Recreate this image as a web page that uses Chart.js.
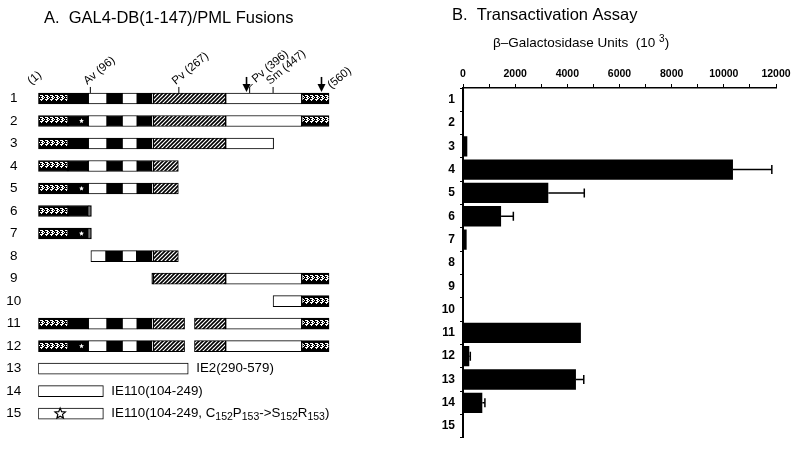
<!DOCTYPE html>
<html>
<head>
<meta charset="utf-8">
<script src="https://cdn.jsdelivr.net/npm/chart.js@4.4.1/dist/chart.umd.min.js"></script>
<style>
  html, body { margin: 0; padding: 0; background: #fff; }
  #wrap { position: relative; width: 800px; height: 450px; }
  .box { position: absolute; top: 0; height: 450px; }
</style>
</head>
<body>
<div id="wrap">
  <div class="box" style="left:0;width:440px"><canvas id="mapChart"></canvas></div>
  <div class="box" style="left:440px;width:360px"><canvas id="assayChart"></canvas></div>
</div>
<script>
// Конструкции 1..15
const constructs = ['1','2','3','4','5','6','7','8','9','10','11','12','13','14','15'];

// A. Карта слияний: [конструкция, начало, конец] в аминокислотах (1-560)
const gal4Segments = [
  ['1',1,58],['1',507,560],['2',1,58],['2',507,560],['3',1,58],['4',1,58],['5',1,58],
  ['6',1,58],['7',1,58],['9',507,560],['10',507,560],['11',1,58],['11',507,560],
  ['12',1,58],['12',507,560]
];
const blackSegments = [
  ['1',58,97],['1',133,162],['1',191,219],
  ['2',58,97],['2',133,162],['2',191,219],
  ['3',58,97],['3',133,162],['3',191,219],
  ['4',58,97],['4',133,162],['4',191,219],
  ['5',58,97],['5',133,162],['5',191,219],
  ['6',58,97],['6',100,103],['7',58,97],['7',100,103],
  ['8',131,162],['8',190,219],['9',219,222],
  ['11',58,97],['11',133,162],['11',191,219],
  ['12',58,97],['12',133,162],['12',191,219]
];
const whiteSegments = [
  ['1',97,133],['1',162,191],['1',219,222],['1',361,507],
  ['2',97,133],['2',162,191],['2',219,222],['2',361,507],
  ['3',97,133],['3',162,191],['3',219,222],['3',361,453],
  ['4',97,133],['4',162,191],['4',219,222],
  ['5',97,133],['5',162,191],['5',219,222],
  ['6',97,100],['7',97,100],
  ['8',102,131],['8',162,190],['8',219,222],
  ['9',361,507],['10',452,507],
  ['11',97,133],['11',162,191],['11',219,222],['11',361,507],
  ['12',97,133],['12',162,191],['12',219,222],['12',361,507]
];
const coiledSegments = [
  ['1',222,361],['2',222,361],['3',222,361],['4',222,270],['5',222,270],
  ['8',222,270],['9',222,361],['11',222,282],['11',301,361],['12',222,282],['12',301,361]
];
const viralSegments = [['13',1,289],['14',1,126],['15',1,126]];
const pointMutants = [['2',84],['5',84],['7',84],['12',84]];
const ringMutants = [['15',43]];
const viralLabels = [
  ['13', [['IE2(290-579)', 0]]],
  ['14', [['IE110(104-249)', 0]]],
  ['15', [['IE110(104-249, C', 0], ['152', 1], ['P', 0], ['153', 1], ['->S', 0], ['152', 1], ['R', 0], ['153', 1], [')', 0]]]
];
const siteNames = ['(1)', 'Av (96)', 'Pv (267)', 'Pv (396)', 'Sm (447)', '(560)'];
const sitePositions = [1, 101, 271, 407, 452, 560];
const arrowPositions = [401, 545];

// B. Трансактивация, бета-галактозидаза (10^3)
const betaGal    = [40, 30, 165, 10350, 3270, 1460, 140, 0, 0, 0, 4520, 240, 4330, 740, 30];
const betaGalErr = [0, 0, 0, 1490, 1380, 470, 0, 0, 0, 0, 0, 40, 300, 100, 0];

const FONT = "'Liberation Sans', Arial, Helvetica, sans-serif";
const BAR = 11;
Chart.defaults.font.family = FONT;
Chart.defaults.color = '#000';

// Узоры
const dotsTile = (() => {
  const c = document.createElement('canvas');
  c.width = 5; c.height = BAR;
  const g = c.getContext('2d');
  g.fillStyle = '#000'; g.fillRect(0, 0, 5, BAR);
  g.fillStyle = '#fff';
  [[0,2],[1,2],[2,2],[2,3],[3,3],[1,4],[2,4],[2,5],[3,5],[0,6],[1,6],[2,6],[1,7],[4,4]]
    .forEach(([px, py]) => g.fillRect(px, py, 1, 1));
  return c;
})();

const hatchPattern = (() => {
  const c = document.createElement('canvas');
  c.width = 4; c.height = 4;
  const g = c.getContext('2d');
  g.fillStyle = '#fff'; g.fillRect(0, 0, 4, 4);
  g.strokeStyle = '#000'; g.lineWidth = 1.6;
  g.beginPath();
  g.moveTo(-1, 1); g.lineTo(1, -1);
  g.moveTo(0, 4); g.lineTo(4, 0);
  g.moveTo(3, 5); g.lineTo(5, 3);
  g.stroke();
  return g.createPattern(c, 'repeat');
})();

// узор GAL4 привязан к верхнему краю полосы
const dotsFill = (context) => {
  const chart = context.chart;
  const raw = context.raw;
  if (!raw || !chart.scales.y) return '#000';
  const p = chart.ctx.createPattern(dotsTile, 'repeat');
  const top = Math.round(chart.scales.y.getPixelForValue(constructs.indexOf(raw.y)) - BAR / 2);
  p.setTransform(new DOMMatrix().translate(0, top));
  return p;
};

const segDataset = (list, fill) => ({
  data: list.map(([row, a, b]) => ({ y: row, x: [a, b] })),
  backgroundColor: fill,
  borderColor: '#000',
  borderWidth: 1,
  borderSkipped: false,
  barThickness: BAR,
  grouped: false
});

const drawStar = (ctx, cx, cy, r, filled) => {
  ctx.beginPath();
  for (let i = 0; i < 10; i++) {
    const rr = i % 2 ? r * 0.45 : r;
    const a = -Math.PI / 2 + i * Math.PI / 5;
    ctx.lineTo(cx + rr * Math.cos(a), cy + rr * Math.sin(a));
  }
  ctx.closePath();
  ctx.fillStyle = '#fff';
  ctx.fill();
  if (!filled) { ctx.strokeStyle = '#000'; ctx.lineWidth = 1.2; ctx.stroke(); }
};

const mapAnnotations = {
  id: 'mapAnnotations',
  afterDatasetsDraw(chart) {
    const { ctx, scales: { x, y } } = chart;
    ctx.save();
    // заголовок
    ctx.fillStyle = '#000';
    ctx.font = '16.5px ' + FONT;
    ctx.textBaseline = 'middle';
    ctx.fillText('A.  GAL4-DB(1-147)/PML Fusions', 44, 18);

    const top = y.getPixelForValue(0) - BAR / 2;
    // сайты рестрикции
    ctx.strokeStyle = '#000';
    ctx.lineWidth = 1;
    sitePositions.forEach((p, i) => {
      const px = x.getPixelForValue(p);
      const inner = i > 0 && i < sitePositions.length - 1;
      if (inner) {
        ctx.beginPath();
        ctx.moveTo(px, top); ctx.lineTo(px, top - 6);
        if (i === 3) ctx.lineTo(px + 3, top - 9);
        ctx.stroke();
      }
      ctx.save();
      let ax = px - 3, ay = top - 8;
      if (i === 0) { ax = px - 7; ay = top - 8; }
      if (i === 3) { ax = px + 6; ay = top - 10; }
      if (i === sitePositions.length - 1) { ax = px + 2; ay = top - 4; }
      ctx.translate(ax, ay);
      ctx.rotate(-40 * Math.PI / 180);
      ctx.font = '11.5px ' + FONT;
      ctx.textBaseline = 'alphabetic';
      ctx.fillText(siteNames[i], 0, 0);
      ctx.restore();
    });
    // стрелки
    arrowPositions.forEach(p => {
      const px = x.getPixelForValue(p);
      ctx.lineWidth = 1.6;
      ctx.beginPath(); ctx.moveTo(px, top - 16); ctx.lineTo(px, top - 8); ctx.stroke();
      ctx.beginPath();
      ctx.moveTo(px - 4, top - 9); ctx.lineTo(px + 4, top - 9); ctx.lineTo(px, top - 1);
      ctx.closePath(); ctx.fill();
    });
    // точечные мутации
    pointMutants.forEach(([row, p]) => {
      drawStar(ctx, x.getPixelForValue(p), y.getPixelForValue(constructs.indexOf(row)), 2.6, true);
    });
    ringMutants.forEach(([row, p]) => {
      drawStar(ctx, x.getPixelForValue(p), y.getPixelForValue(constructs.indexOf(row)), 5.5, false);
    });
    // подписи вирусных белков
    ctx.fillStyle = '#000';
    viralLabels.forEach(([row, parts]) => {
      const seg = viralSegments.find(s => s[0] === row);
      let px = x.getPixelForValue(seg[2]) + 8;
      const py = y.getPixelForValue(constructs.indexOf(row));
      parts.forEach(([t, sub]) => {
        ctx.font = (sub ? '10.5px ' : '13.3px ') + FONT;
        ctx.textBaseline = 'middle';
        ctx.fillText(t, px, sub ? py + 3 : py);
        px += ctx.measureText(t).width;
      });
    });
    ctx.restore();
  }
};

const mapChart = new Chart(document.getElementById('mapChart'), {
  type: 'bar',
  data: {
    labels: constructs,
    datasets: [
      segDataset(gal4Segments, dotsFill),
      segDataset(blackSegments, '#000'),
      segDataset(whiteSegments, '#fff'),
      segDataset(coiledSegments, hatchPattern),
      segDataset(viralSegments, '#fff')
    ]
  },
  options: {
    indexAxis: 'y',
    responsive: true,
    maintainAspectRatio: false,
    animation: false,
    layout: { padding: { top: 87.2, right: 110.7, bottom: 9.2, left: 0 } },
    scales: {
      x: { type: 'linear', min: 1, max: 560, display: false },
      y: {
        afterFit: (s) => { s.width = 38.3; },
        ticks: { crossAlign: 'center', padding: 17, font: { size: 13.5 }, color: '#000' },
        grid: { display: false, drawTicks: false },
        border: { display: false }
      }
    },
    plugins: { legend: { display: false }, tooltip: { enabled: false } }
  },
  plugins: [mapAnnotations]
});

// B. столбчатая диаграмма
const errorBars = {
  id: 'errorBars',
  afterDatasetsDraw(chart) {
    const { ctx, scales: { x, y } } = chart;
    ctx.save();
    ctx.strokeStyle = '#000';
    ctx.lineWidth = 1.5;
    betaGal.forEach((v, i) => {
      const e = betaGalErr[i];
      if (!e) return;
      const py = y.getPixelForValue(i);
      const x0 = x.getPixelForValue(v), x1 = x.getPixelForValue(v + e);
      ctx.beginPath();
      ctx.moveTo(x0, py); ctx.lineTo(x1, py);
      ctx.moveTo(x1, py - 4.5); ctx.lineTo(x1, py + 4.5);
      ctx.stroke();
    });
    // заголовки
    ctx.fillStyle = '#000';
    ctx.textBaseline = 'middle';
    ctx.font = '16.5px ' + FONT;
    ctx.fillText('B.  Transactivation Assay', 12, 15);
    ctx.font = '13.5px ' + FONT;
    const head = 'β–Galactosidase Units  (10 ';
    ctx.fillText(head, 53, 43);
    let px = 53 + ctx.measureText(head).width;
    ctx.font = '10px ' + FONT;
    ctx.fillText('3', px, 39);
    px += ctx.measureText('3').width;
    ctx.font = '13.5px ' + FONT;
    ctx.fillText(')', px, 43);
    ctx.restore();
  }
};

const assayChart = new Chart(document.getElementById('assayChart'), {
  type: 'bar',
  data: {
    labels: constructs,
    datasets: [{
      data: betaGal,
      backgroundColor: '#000',
      borderWidth: 0,
      barPercentage: 0.87,
      categoryPercentage: 1
    }]
  },
  options: {
    indexAxis: 'y',
    responsive: true,
    maintainAspectRatio: false,
    animation: false,
    layout: { padding: { top: 0, right: 24, bottom: 5, left: 0 } },
    scales: {
      x: {
        position: 'top',
        min: 0,
        max: 12000,
        afterFit: (s) => { s.height = 88; },
        ticks: {
          stepSize: 1000,
          autoSkip: false,
          maxRotation: 0,
          padding: 4,
          font: { size: 10.5, weight: 'bold' },
          color: '#000',
          callback: (v) => (v % 2000 === 0 ? String(v) : '')
        },
        grid: { drawOnChartArea: false, drawTicks: true, tickLength: 4, color: '#000', lineWidth: 1 },
        border: { display: true, color: '#000', width: 1.5 }
      },
      y: {
        afterFit: (s) => { s.width = 23; },
        ticks: { padding: 5, font: { size: 12, weight: 'bold' }, color: '#000' },
        grid: { drawOnChartArea: false, tickLength: 3, color: '#000', offset: true },
        border: { color: '#000', width: 2 }
      }
    },
    plugins: { legend: { display: false }, tooltip: { enabled: false } }
  },
  plugins: [errorBars]
});
</script>
</body>
</html>
